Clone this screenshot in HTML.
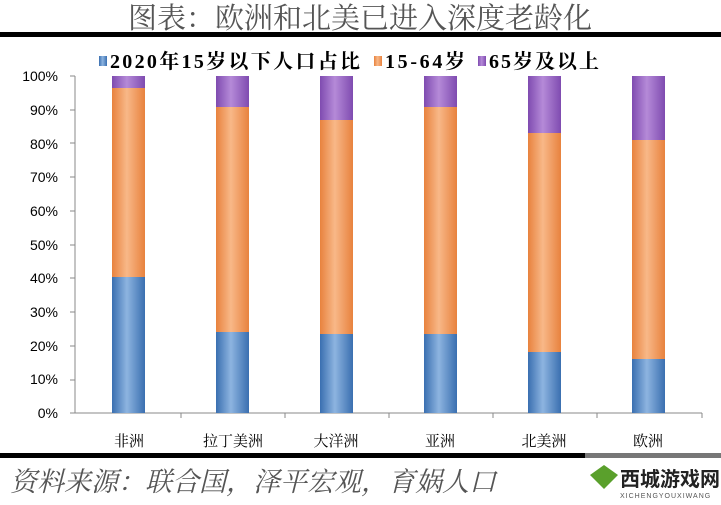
<!DOCTYPE html>
<html><head><meta charset="utf-8"><style>
body{margin:0;background:#fff;width:721px;height:500px;overflow:hidden;font-family:"Liberation Sans","Noto Sans CJK SC",sans-serif;}
</style></head><body>
<svg width="721" height="500" xmlns="http://www.w3.org/2000/svg">
<defs>
<linearGradient id="b" x1="0" x2="1"><stop offset="0" stop-color="#3a6fb0"/><stop offset="0.45" stop-color="#8db4e0"/><stop offset="1" stop-color="#3a6fb0"/></linearGradient>
<linearGradient id="o" x1="0" x2="1"><stop offset="0" stop-color="#e8823e"/><stop offset="0.45" stop-color="#f8b888"/><stop offset="1" stop-color="#e8823e"/></linearGradient>
<linearGradient id="p" x1="0" x2="1"><stop offset="0" stop-color="#7f4bb0"/><stop offset="0.45" stop-color="#b58ad8"/><stop offset="1" stop-color="#7f4bb0"/></linearGradient>
</defs>
<text x="360" y="28" text-anchor="middle" font-family="Noto Serif CJK SC,serif" font-size="29" fill="#555">图表：欧洲和北美已进入深度老龄化</text>
<rect x="0" y="32" width="721" height="5" fill="#000"/>
<g font-family="Liberation Serif,Noto Serif CJK SC,serif" font-weight="bold" font-size="20" fill="#000">
<rect x="99" y="56" width="8" height="10" fill="url(#b)"/><text x="110" y="68" textLength="250">2020年15岁以下人口占比</text>
<rect x="374" y="56" width="8" height="10" fill="url(#o)"/><text x="385" y="68" textLength="80">15-64岁</text>
<rect x="478" y="56" width="8" height="10" fill="url(#p)"/><text x="489" y="68" textLength="110">65岁及以上</text>
</g>
<g font-size="14" fill="#000" text-anchor="end">
<text x="58" y="418">0%</text><text x="58" y="384">10%</text><text x="58" y="351">20%</text><text x="58" y="317">30%</text><text x="58" y="283">40%</text><text x="58" y="250">50%</text><text x="58" y="216">60%</text><text x="58" y="182">70%</text><text x="58" y="149">80%</text><text x="58" y="115">90%</text><text x="58" y="81">100%</text>
</g>
<g stroke="#888" stroke-width="1">
<line x1="75" y1="76" x2="75" y2="413"/><line x1="75" y1="413" x2="702" y2="413"/>
<line x1="70" y1="76" x2="75" y2="76"/><line x1="70" y1="110" x2="75" y2="110"/><line x1="70" y1="143" x2="75" y2="143"/><line x1="70" y1="177" x2="75" y2="177"/><line x1="70" y1="211" x2="75" y2="211"/><line x1="70" y1="245" x2="75" y2="245"/><line x1="70" y1="278" x2="75" y2="278"/><line x1="70" y1="312" x2="75" y2="312"/><line x1="70" y1="346" x2="75" y2="346"/><line x1="70" y1="380" x2="75" y2="380"/><line x1="70" y1="413" x2="75" y2="413"/>
<line x1="181" y1="413" x2="181" y2="418"/><line x1="285" y1="413" x2="285" y2="418"/><line x1="389" y1="413" x2="389" y2="418"/><line x1="493" y1="413" x2="493" y2="418"/><line x1="597" y1="413" x2="597" y2="418"/><line x1="702" y1="413" x2="702" y2="418"/>
</g>
<g>
<rect x="112" y="76" width="33" height="12" fill="url(#p)"/><rect x="112" y="88" width="33" height="189" fill="url(#o)"/><rect x="112" y="277" width="33" height="136" fill="url(#b)"/>
<rect x="216" y="76" width="33" height="31" fill="url(#p)"/><rect x="216" y="107" width="33" height="225" fill="url(#o)"/><rect x="216" y="332" width="33" height="81" fill="url(#b)"/>
<rect x="320" y="76" width="33" height="44" fill="url(#p)"/><rect x="320" y="120" width="33" height="214" fill="url(#o)"/><rect x="320" y="334" width="33" height="79" fill="url(#b)"/>
<rect x="424" y="76" width="33" height="31" fill="url(#p)"/><rect x="424" y="107" width="33" height="227" fill="url(#o)"/><rect x="424" y="334" width="33" height="79" fill="url(#b)"/>
<rect x="528" y="76" width="33" height="57" fill="url(#p)"/><rect x="528" y="133" width="33" height="219" fill="url(#o)"/><rect x="528" y="352" width="33" height="61" fill="url(#b)"/>
<rect x="632" y="76" width="33" height="64" fill="url(#p)"/><rect x="632" y="140" width="33" height="219" fill="url(#o)"/><rect x="632" y="359" width="33" height="54" fill="url(#b)"/>
</g>
<g font-family="Noto Serif CJK SC,serif" font-size="15" fill="#000" text-anchor="middle">
<text x="129" y="446">非洲</text><text x="233" y="446">拉丁美洲</text><text x="336" y="446">大洋洲</text><text x="440" y="446">亚洲</text><text x="544" y="446">北美洲</text><text x="648" y="446">欧洲</text>
</g>
<rect x="0" y="453" width="585" height="5" fill="#000"/>
<rect x="585" y="453" width="136" height="5" fill="#777"/>
<text x="10" y="491" font-family="Noto Serif CJK SC,serif" font-style="italic" font-size="27" fill="#555">资料来源：联合国，泽平宏观，育娲人口</text>
<path d="M590 475 l14 -10 l14 10 l-14 14 z" fill="#5aa02c"/>
<text x="620" y="486" font-family="Noto Sans CJK SC,sans-serif" font-weight="bold" font-size="20" fill="#222">西城游戏网</text>
<text x="620" y="498" font-size="7" fill="#555" letter-spacing="1">XICHENGYOUXIWANG</text>
</svg>
</body></html>
